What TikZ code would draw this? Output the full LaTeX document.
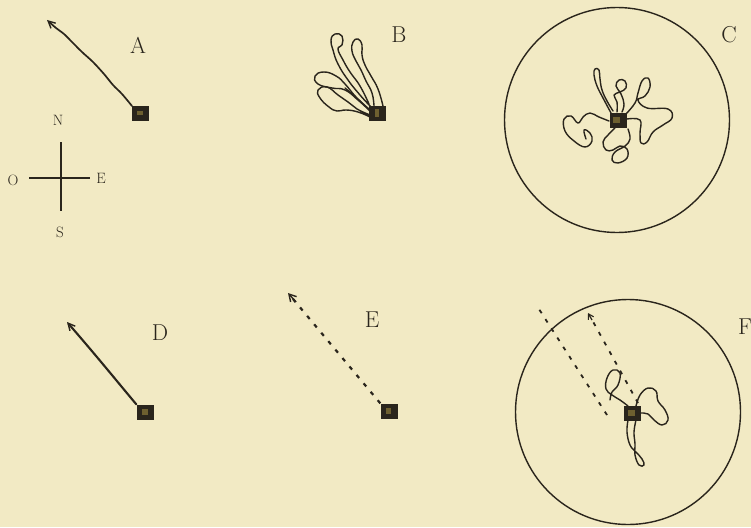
\documentclass[tikz,border=0pt]{standalone}
\usetikzlibrary{arrows.meta}
\definecolor{bg}{HTML}{F2EAC4}
\definecolor{ink}{HTML}{2A251C}
\definecolor{inner}{HTML}{6E6030}
\begin{document}
\begin{tikzpicture}[x=1pt,y=-1pt,
  dev/.style={rectangle, fill=ink, minimum width=17pt, minimum height=15pt, inner sep=0pt},
  lbl/.style={text=ink, font=\fontsize{23}{25}\selectfont, inner sep=0pt},
  cmp/.style={text=ink, font=\fontsize{15}{17}\selectfont, inner sep=0pt},
  track/.style={draw=ink, line width=1.4pt, line cap=round, line join=round},
  path/.style={draw=ink, line width=1.7pt, line cap=round, line join=round, -{Straight Barb[length=7pt,width=7pt,line width=1.4pt]}},
  dotpath/.style={draw=ink, line width=2.2pt, dash pattern=on 4pt off 7pt},
  ring/.style={circle, draw=ink, line width=1.4pt, minimum size=225pt, inner sep=0pt}
]
\fill[bg] (0,0) rectangle (751,527);
\useasboundingbox (0,0) rectangle (751,527);

% ---------- A ----------
\node[dev] (boxA) at (140,113) {};
\fill[inner] (137,111) rectangle (143,115);
\coordinate (tipA) at (47,20);
\draw[path] plot[smooth, tension=0.5] coordinates {(132,106) (122,94) (113,85) (104,74) (93,62) (82,52) (72,42) (64,34) (56,28) (tipA)};
\node[lbl] (labA) at (138,45) {A};

% ---------- compass ----------
\coordinate (cN) at (61,142);
\coordinate (cS) at (61,211);
\coordinate (cW) at (29,178);
\coordinate (cE) at (90,178);
\draw[ink, line width=2.4pt] (cN) -- (cS);
\draw[ink, line width=2.8pt] (cW) -- (cE);
\node[cmp] (lN) at (58,120) {N};
\node[cmp] (lS) at (60,232) {S};
\node[cmp] (lO) at (13,180) {O};
\node[cmp] (lE) at (101,178) {E};

% ---------- B ----------
\node[dev] (boxB) at (377,113) {};
\fill[inner] (375,109) rectangle (379,117);
\draw[track] plot[smooth, tension=0.8] coordinates {(374,106) (372,93) (366,81) (361,70) (356,61) (352,51) (353,42) (358,39) (362,45) (362,55) (365,65) (371,76) (378,89) (383,106)};
\draw[track] plot[smooth, tension=0.8] coordinates {(371,107) (360,95) (348,80) (338,64) (333,50) (331,40) (335,34) (342,36) (342,45) (338,49) (343,60) (350,72) (360,86) (369,104)};
\draw[track] plot[smooth, tension=0.8] coordinates {(370,110) (356,97) (345,84) (336,76) (324,72) (315,76) (318,84) (332,88) (345,90) (358,100) (371,112)};
\draw[track] plot[smooth, tension=0.8] coordinates {(370,115) (357,109) (348,102) (338,95) (327,87) (318,90) (320,98) (329,107) (337,111) (346,110) (358,112) (370,117)};
\draw[track] plot[smooth, tension=0.8] coordinates {(372,112) (362,103) (352,94) (345,88)};
\node[lbl] (labB) at (399,35) {B};

% ---------- C ----------
\node[ring] (ringC) at (617,120) {};
\node[dev] (boxC) at (618,120) {};
\fill[inner] (613,117) rectangle (620,123);
\draw[track] plot[smooth, tension=0.7] coordinates {(611,113) (603,98) (597,86) (594,75) (595,69) (599,70) (600,79) (602,90) (607,101) (613,111)};
\draw[track] plot[smooth, tension=0.7] coordinates {(617,112) (617,102) (614,95) (620,92) (626,88) (625,81) (619,80) (616,86) (621,94) (624,104) (622,112)};
\draw[track] plot[smooth, tension=0.7] coordinates {(626,114) (635,103) (638,93) (642,81) (648,78) (650,87) (645,96) (638,100) (647,108) (668,109) (672,118) (663,125) (653,132) (647,142) (641,143) (640,133) (640,120) (627,119)};
\draw[track] plot[smooth, tension=0.7] coordinates {(609,121) (599,117) (590,113) (583,117) (578,123) (571,116) (564,119) (565,131) (574,141) (585,147) (592,141) (590,133) (584,130) (586,139)};
\draw[track] plot[smooth, tension=0.7] coordinates {(615,128) (608,135) (603,142) (606,150) (613,150) (620,146) (627,149) (627,158) (618,163) (612,160) (615,152) (625,146) (630,139) (628,129)};
\node[lbl] (labC) at (729,35) {C};

% ---------- D ----------
\node[dev] (boxD) at (145,412) {};
\fill[inner] (142,409) rectangle (148,415);
\coordinate (tipD) at (67,322);
\draw[path, line width=2.1pt] (boxD.north west) .. controls (120,385) and (100,360) .. (tipD);
\node[lbl] (labD) at (160,333) {D};

% ---------- E ----------
\node[dev] (boxE) at (389,411) {};
\fill[inner] (386,408) rectangle (391,414);
\coordinate (tipE) at (288,293);
\draw[dotpath] (boxE.north west) -- (293,299);
\draw[ink, line width=1.4pt, -{Straight Barb[length=7pt,width=8pt,line width=1.4pt]}] (296,302) -- (tipE);
\node[lbl] (labE) at (372,320) {E};

% ---------- F ----------
\node[ring] (ringF) at (628,412) {};
\node[dev] (boxF) at (632,413) {};
\fill[inner] (628,410) rectangle (635,416);
\coordinate (f1a) at (537,306);
\coordinate (f1b) at (607,415);
\coordinate (f2a) at (588,313);
\coordinate (f2b) at (638,403);
\draw[dotpath, line width=1.8pt] (f1b) -- (f1a);
\draw[dotpath, line width=1.8pt] (f2b) -- (591,318);
\draw[ink, line width=1.2pt, -{Straight Barb[length=5pt,width=6pt,line width=1.1pt]}] (592,320) -- (f2a);
\draw[track] plot[smooth, tension=0.7] coordinates {(628,406) (620,400) (612,395) (606,389) (607,378) (613,370) (620,373) (618,385) (612,392) (610,400)};
\draw[track] plot[smooth, tension=0.7] coordinates {(636,406) (640,395) (648,388) (656,391) (658,401) (665,410) (668,420) (662,425) (654,420) (648,414) (641,413)};
\draw[track] plot[smooth, tension=0.7] coordinates {(628,420) (627,432) (630,445) (636,452) (642,459) (644,465) (639,465) (635,455) (635,444) (634,432) (636,420)};
\node[lbl] (labF) at (745,327) {F};
\end{tikzpicture}
\end{document}
